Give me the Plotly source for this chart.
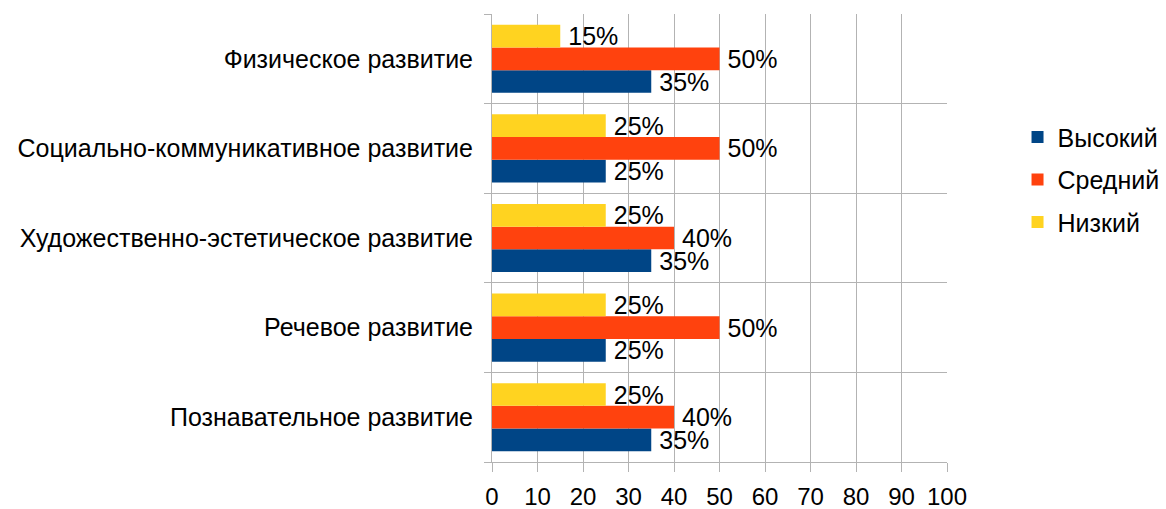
import plotly.graph_objects as go

categories = ["Познавательное развитие", "Речевое развитие",
              "Художественно-эстетическое развитие",
              "Социально-коммуникативное развитие", "Физическое развитие"]
high = [35, 25, 35, 25, 35]
mid = [40, 50, 40, 50, 50]
low = [25, 25, 25, 25, 15]
series_names = ["Высокий", "Средний", "Низкий"]
colors = ["#004586", "#ff420e", "#ffd320"]
x_ticks = [0, 10, 20, 30, 40, 50, 60, 70, 80, 90, 100]

fig = go.Figure()
for name, vals, col in zip(series_names, [high, mid, low], colors):
    fig.add_trace(go.Bar(
        y=categories, x=vals, name=name, orientation="h",
        legendgroup=name,
        marker=dict(color=col, line=dict(width=0)),
        text=["\u2009" + f"{v}%" for v in vals], textposition="outside",
        textfont=dict(size=25, color="#000000", family="Liberation Sans"),
        cliponaxis=False, constraintext="none",
    ))

fig.update_layout(
    barmode="group", bargap=0.24, bargroupgap=0,
    width=1166, height=509,
    margin=dict(l=492, r=219, t=14, b=47, autoexpand=False),
    paper_bgcolor="white", plot_bgcolor="white",
    font=dict(family="Liberation Sans", size=25, color="#000000"),
    showlegend=True,
    legend=dict(x=1.155, y=0.63, xanchor="left", yanchor="middle",
                font=dict(size=25), traceorder="grouped",
                itemwidth=30, tracegroupgap=7),
)
fig.update_xaxes(range=[0, 100], tickvals=x_ticks, showgrid=True,
                 gridcolor="#b3b3b3", gridwidth=1, showline=True,
                 linecolor="#b3b3b3", ticks="outside", ticklen=9,
                 tickcolor="#b3b3b3", tickfont=dict(size=24), zeroline=False,
                 automargin=False, ticklabelstandoff=4)
fig.update_yaxes(showgrid=True, gridcolor="#b3b3b3", showline=True,
                 linecolor="#b3b3b3", ticks="outside", ticklen=7,
                 tickcolor="#b3b3b3", tickson="boundaries",
                 tickfont=dict(size=25), categoryorder="array",
                 categoryarray=categories, automargin=False,
                 ticklabelstandoff=13)

fig.write_html("out.html",
               config={"displayModeBar": False},
               post_script="document.body.style.margin='0';"
                           "document.body.style.overflow='hidden';")
